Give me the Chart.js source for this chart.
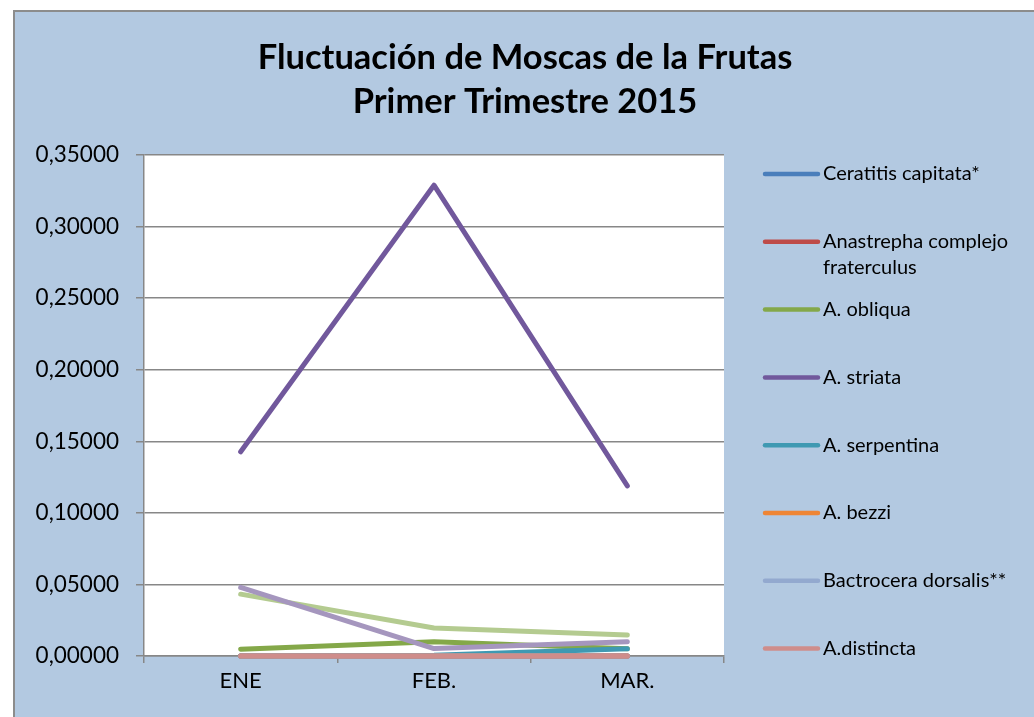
<!DOCTYPE html>
<html>
<head>
<meta charset="utf-8">
<script src="https://cdn.jsdelivr.net/npm/chart.js@4/dist/chart.umd.min.js"></script>
<style>
  html, body { margin: 0; padding: 0; background: #fff; overflow: hidden; }
  #frame {
    position: absolute; left: 13px; top: 10px;
    width: 1040px; height: 740px;
    border-left: 2px solid #8c8c8c; border-top: 2px solid #8c8c8c;
    background: #b3c9e1;
  }
</style>
</head>
<body>
<div id="frame"><canvas id="chart" width="1040" height="740"></canvas></div>
<script>
// data
const months = ['ENE', 'FEB.', 'MAR.'];
const ceratitis = [0, 0, 0];
const fraterculus = [0, 0, 0];
const obliqua = [0.0047, 0.0100, 0.0050];
const striata = [0.1427, 0.3289, 0.1188];
const serpentina = [0, 0.0005, 0.0050];
const bezzi = [0, 0, 0];
const dorsalis = [0, 0, 0];
const distincta = [0, 0, 0];
const serie9 = [0.0432, 0.0195, 0.0146];
const serie10 = [0.0479, 0.0052, 0.0100];

const seriesNames = ['Ceratitis capitata*', 'Anastrepha complejo fraterculus', 'A. obliqua', 'A. striata',
  'A. serpentina', 'A. bezzi', 'Bactrocera dorsalis**', 'A.distincta', 'Serie 9', 'Serie 10'];
const seriesData = [ceratitis, fraterculus, obliqua, striata, serpentina, bezzi, dorsalis, distincta, serie9, serie10];
const seriesColors = ['#4a7ebb', '#be4b48', '#84a849', '#71589c', '#3f99b2', '#ee8535', '#93a9cf', '#cf8d8b', '#b4cb90', '#a596be'];
const inLegend = [true, true, true, true, true, true, true, true, false, false];
const titleLines = ['Fluctuación de Moscas de la Frutas', 'Primer Trimestre 2015'];

const yMax = 0.35, yStep = 0.05;
const FONT = 'Lato, Carlito, Calibri, sans-serif';

// white plot area
const plotBg = {
  id: 'plotBg',
  beforeDraw(chart) {
    const a = chart.chartArea;
    chart.ctx.save();
    chart.ctx.fillStyle = '#fff';
    chart.ctx.fillRect(a.left, a.top, a.right - a.left, a.bottom - a.top);
    chart.ctx.restore();
  }
};

// title + legend drawn on the canvas like the Excel ones
const excelBits = {
  id: 'excelBits',
  afterDraw(chart) {
    const ctx = chart.ctx;
    ctx.save();
    ctx.fillStyle = '#000';
    ctx.textBaseline = 'middle';
    ctx.textAlign = 'center';
    ctx.font = 'bold 34.5px ' + FONT;
    titleLines.forEach((t, i) => ctx.fillText(t, 510, 46 + i * 44));

    ctx.textAlign = 'left';
    ctx.font = '20px ' + FONT;
    let y = 162;
    chart.data.datasets.forEach((ds, i) => {
      if (!inLegend[i]) return;
      ctx.strokeStyle = ds.borderColor;
      ctx.lineWidth = 4.5;
      ctx.lineCap = 'round';
      ctx.beginPath();
      ctx.moveTo(750, y);
      ctx.lineTo(803, y);
      ctx.stroke();
      // wrap words
      const words = ds.label.split(' ');
      let line = '', ly = y;
      words.forEach(w => {
        const test = line ? line + ' ' + w : w;
        if (ctx.measureText(test).width > 205 && line) {
          ctx.fillText(line, 808, ly);
          line = w; ly += 26;
        } else line = test;
      });
      ctx.fillText(line, 808, ly);
      y += 67.8;
    });
    ctx.restore();
  }
};

const ctx = document.getElementById('chart').getContext('2d');
new Chart(ctx, {
  type: 'line',
  data: {
    labels: months,
    datasets: seriesData.map((d, i) => ({
      label: seriesNames[i],
      data: d,
      borderColor: seriesColors[i],
      backgroundColor: seriesColors[i],
      borderWidth: 5,
      borderCapStyle: 'round',
      borderJoinStyle: 'round',
      pointRadius: 0,
      tension: 0,
      clip: false,
      order: -i
    }))
  },
  options: {
    responsive: false,
    animation: false,
    layout: { padding: { top: 143, left: 0, right: 331, bottom: 0 } },
    plugins: {
      legend: { display: false },
      tooltip: { enabled: false },
      title: { display: false }
    },
    scales: {
      x: {
        offset: true,
        afterFit(scale) { scale.height = 740 - 644; },
        grid: { offset: true, drawOnChartArea: false, drawTicks: true, tickLength: 7, color: '#878787', lineWidth: 1.5 },
        border: { color: '#878787', width: 1.5 },
        ticks: { color: '#000', font: { family: FONT, size: 22 }, padding: 5 }
      },
      y: {
        min: 0,
        max: yMax,
        afterFit(scale) { scale.width = 129; },
        grid: { color: '#878787', lineWidth: 1.5, tickLength: 8 },
        border: { color: '#878787', width: 1.5 },
        ticks: {
          stepSize: yStep,
          color: '#000',
          font: { family: FONT, size: 22.5 },
          padding: 17,
          callback: v => v.toFixed(5).replace('.', ',')
        }
      }
    }
  },
  plugins: [plotBg, excelBits]
});
</script>
</body>
</html>
